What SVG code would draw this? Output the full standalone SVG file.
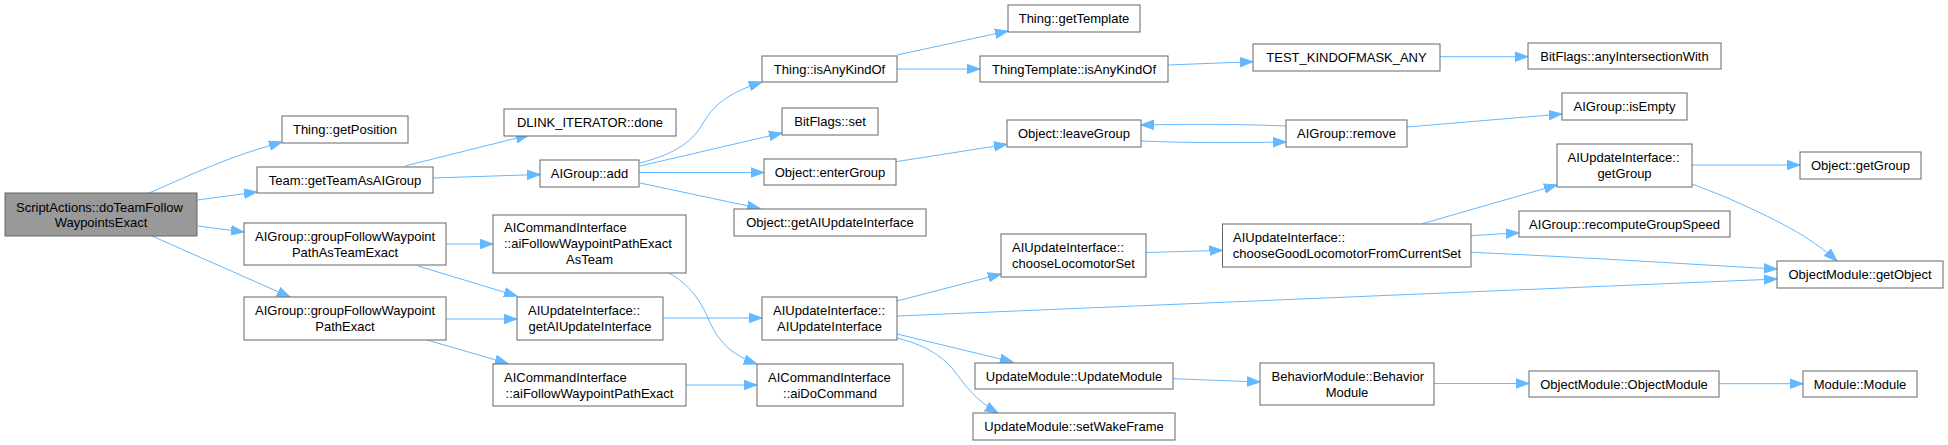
<svg xmlns="http://www.w3.org/2000/svg" width="1948" height="445" viewBox="0 0 1948 445">
<style>
.n rect{fill:#fff;stroke:#666;stroke-width:1}
.n.root rect{fill:#999}
.n text{font-family:"Liberation Sans",Arial,sans-serif;font-size:13px;fill:#000}
.c{text-anchor:middle}
.e path{fill:none;stroke:#63b8ff;stroke-width:1;marker-end:url(#a)}
</style>
<defs>
<marker id="a" markerUnits="userSpaceOnUse" markerWidth="14" markerHeight="11" viewBox="0 0 14 11" refX="13" refY="5.5" orient="auto">
<path d="M0,0.8 L13,5.5 L0,10.2 z" fill="#63b8ff" stroke="#63b8ff"/>
</marker>
</defs>
<rect width="1948" height="445" fill="#fff"/>
<g class="e" id="connectors">
<path d="M149,193 C170,184 200,170 232,158 C248,152 265,147 282,142"/>
<path d="M197,200 L257,192"/>
<path d="M198,226 L244,232"/>
<path d="M152,236 L290,297"/>
<path d="M405,166 L529,135"/>
<path d="M433,178 L540,174.5"/>
<path d="M446,244 L493,244"/>
<path d="M418,266 L517,296"/>
<path d="M446,319 L517,319"/>
<path d="M427,340 L508,363.5"/>
<path d="M669,273 C690,285 700,300 708,318 C716,338 730,355 757,364"/>
<path d="M686,385 L757,385"/>
<path d="M663,318 L762,318"/>
<path d="M640,163 C670,155 690,145 702,125 C713,105 728,93 762,82"/>
<path d="M640,166 L782,133"/>
<path d="M639,172.5 L764,172.5"/>
<path d="M640,183 L760,208.5"/>
<path d="M897,55 L1008,31"/>
<path d="M897,69 L980,69"/>
<path d="M1168,65 L1253,61.7"/>
<path d="M1440,56.7 L1528,56.7"/>
<path d="M896,161.7 L1007,144.3"/>
<path d="M1141,141 C1190,143 1240,143 1286,142"/>
<path d="M1286,126 C1240,124 1190,124 1141,125"/>
<path d="M1407,127 L1562,114"/>
<path d="M897,301 L1001,274"/>
<path d="M897,316 L1777,279"/>
<path d="M897,334 L1013,362"/>
<path d="M897,338 C925,345 940,355 952,368 C965,385 975,400 998,413"/>
<path d="M1146,252.5 L1222.5,250.3"/>
<path d="M1423,223.5 L1557,185"/>
<path d="M1471,235.7 L1519,232.7"/>
<path d="M1471,252.3 C1600,258 1700,265 1777,269"/>
<path d="M1692,165 L1800,165"/>
<path d="M1692,184 C1730,198 1760,212 1790,228 C1808,238 1825,250 1837,261"/>
<path d="M1173,378.7 L1260,382"/>
<path d="M1434,383.5 L1529,383.5"/>
<path d="M1719,383.7 L1803,383.7"/>
</g>
<g class="n root" id="n_script"><rect x="5" y="193" width="192" height="43"/><text x="16" y="211.5">ScriptActions::doTeamFollow</text><text class="c" x="101" y="227">WaypointsExact</text></g>
<g class="n" id="n_getPosition"><rect x="282" y="116" width="126" height="27"/><text class="c" x="345" y="134">Thing::getPosition</text></g>
<g class="n" id="n_team"><rect x="257" y="167" width="176" height="26"/><text class="c" x="345" y="184.5">Team::getTeamAsAIGroup</text></g>
<g class="n" id="n_gfAsTeam"><rect x="244" y="223" width="202" height="42"/><text x="255" y="241">AIGroup::groupFollowWaypoint</text><text class="c" x="345" y="256.5">PathAsTeamExact</text></g>
<g class="n" id="n_gf"><rect x="244" y="297" width="202" height="43"/><text x="255" y="315">AIGroup::groupFollowWaypoint</text><text class="c" x="345" y="330.5">PathExact</text></g>
<g class="n" id="n_dlink"><rect x="504" y="109" width="172" height="27"/><text class="c" x="590" y="127">DLINK_ITERATOR::done</text></g>
<g class="n" id="n_add"><rect x="540" y="160" width="99" height="27"/><text class="c" x="589.5" y="178">AIGroup::add</text></g>
<g class="n" id="n_aiFollowAsTeam"><rect x="493" y="215" width="193" height="58"/><text x="504" y="232">AICommandInterface</text><text x="504" y="248">::aiFollowWaypointPathExact</text><text class="c" x="589.5" y="263.5">AsTeam</text></g>
<g class="n" id="n_getAIUpd"><rect x="517" y="297" width="146" height="43"/><text x="528" y="315">AIUpdateInterface::</text><text class="c" x="590" y="330.5">getAIUpdateInterface</text></g>
<g class="n" id="n_aiFollow"><rect x="493" y="364" width="193" height="42"/><text x="504" y="382">AICommandInterface</text><text class="c" x="589.5" y="397.5">::aiFollowWaypointPathExact</text></g>
<g class="n" id="n_isAnyKindOf"><rect x="762" y="56" width="135" height="26"/><text class="c" x="829.5" y="73.5">Thing::isAnyKindOf</text></g>
<g class="n" id="n_bitset"><rect x="782" y="108" width="96" height="27"/><text class="c" x="830" y="126">BitFlags::set</text></g>
<g class="n" id="n_enterGroup"><rect x="764" y="159" width="132" height="26"/><text class="c" x="830" y="176.5">Object::enterGroup</text></g>
<g class="n" id="n_objGetAIUpd"><rect x="734" y="209" width="192" height="27"/><text class="c" x="830" y="227">Object::getAIUpdateInterface</text></g>
<g class="n" id="n_aiupd"><rect x="762" y="297" width="135" height="43"/><text x="773" y="315">AIUpdateInterface::</text><text class="c" x="829.5" y="330.5">AIUpdateInterface</text></g>
<g class="n" id="n_aiDoCmd"><rect x="757" y="364" width="146" height="42"/><text x="768" y="382">AICommandInterface</text><text class="c" x="830" y="397.5">::aiDoCommand</text></g>
<g class="n" id="n_getTemplate"><rect x="1008" y="5" width="132" height="27"/><text class="c" x="1074" y="23">Thing::getTemplate</text></g>
<g class="n" id="n_ttIsAny"><rect x="980" y="56" width="188" height="26"/><text class="c" x="1074" y="73.5">ThingTemplate::isAnyKindOf</text></g>
<g class="n" id="n_leaveGroup"><rect x="1007" y="120" width="134" height="27"/><text class="c" x="1074" y="138">Object::leaveGroup</text></g>
<g class="n" id="n_chooseLoco"><rect x="1001" y="234" width="145" height="43"/><text x="1012" y="252">AIUpdateInterface::</text><text class="c" x="1073.5" y="267.5">chooseLocomotorSet</text></g>
<g class="n" id="n_chooseGood"><rect x="1222.5" y="224" width="248.5" height="43"/><text x="1233" y="242">AIUpdateInterface::</text><text class="c" x="1347" y="257.5">chooseGoodLocomotorFromCurrentSet</text></g>
<g class="n" id="n_updModule"><rect x="975" y="363" width="198" height="26"/><text class="c" x="1074" y="380.5">UpdateModule::UpdateModule</text></g>
<g class="n" id="n_setWake"><rect x="973" y="413" width="202" height="27"/><text class="c" x="1074" y="431">UpdateModule::setWakeFrame</text></g>
<g class="n" id="n_test"><rect x="1253" y="44" width="187" height="27"/><text class="c" x="1346.5" y="62">TEST_KINDOFMASK_ANY</text></g>
<g class="n" id="n_remove"><rect x="1286" y="120" width="121" height="27"/><text class="c" x="1346.5" y="138">AIGroup::remove</text></g>
<g class="n" id="n_behavior"><rect x="1260" y="363" width="174" height="42"/><text x="1271.5" y="381">BehaviorModule::Behavior</text><text class="c" x="1347" y="396.5">Module</text></g>
<g class="n" id="n_anyInter"><rect x="1528" y="43" width="193" height="26"/><text class="c" x="1624.5" y="60.5">BitFlags::anyIntersectionWith</text></g>
<g class="n" id="n_isEmpty"><rect x="1562" y="93" width="125" height="27"/><text class="c" x="1624.5" y="111">AIGroup::isEmpty</text></g>
<g class="n" id="n_getGroupAI"><rect x="1557" y="144" width="135" height="43"/><text x="1567.5" y="162">AIUpdateInterface::</text><text class="c" x="1624.5" y="177.5">getGroup</text></g>
<g class="n" id="n_recompute"><rect x="1519" y="211" width="211" height="26"/><text class="c" x="1624.5" y="228.5">AIGroup::recomputeGroupSpeed</text></g>
<g class="n" id="n_objModule"><rect x="1529" y="371" width="190" height="26"/><text class="c" x="1624" y="388.5">ObjectModule::ObjectModule</text></g>
<g class="n" id="n_objGetGroup"><rect x="1800" y="152" width="121" height="27"/><text class="c" x="1860.5" y="170">Object::getGroup</text></g>
<g class="n" id="n_getObject"><rect x="1777" y="261" width="166" height="27"/><text class="c" x="1860" y="279">ObjectModule::getObject</text></g>
<g class="n" id="n_module"><rect x="1803" y="371" width="114" height="26"/><text class="c" x="1860" y="388.5">Module::Module</text></g>
</svg>
